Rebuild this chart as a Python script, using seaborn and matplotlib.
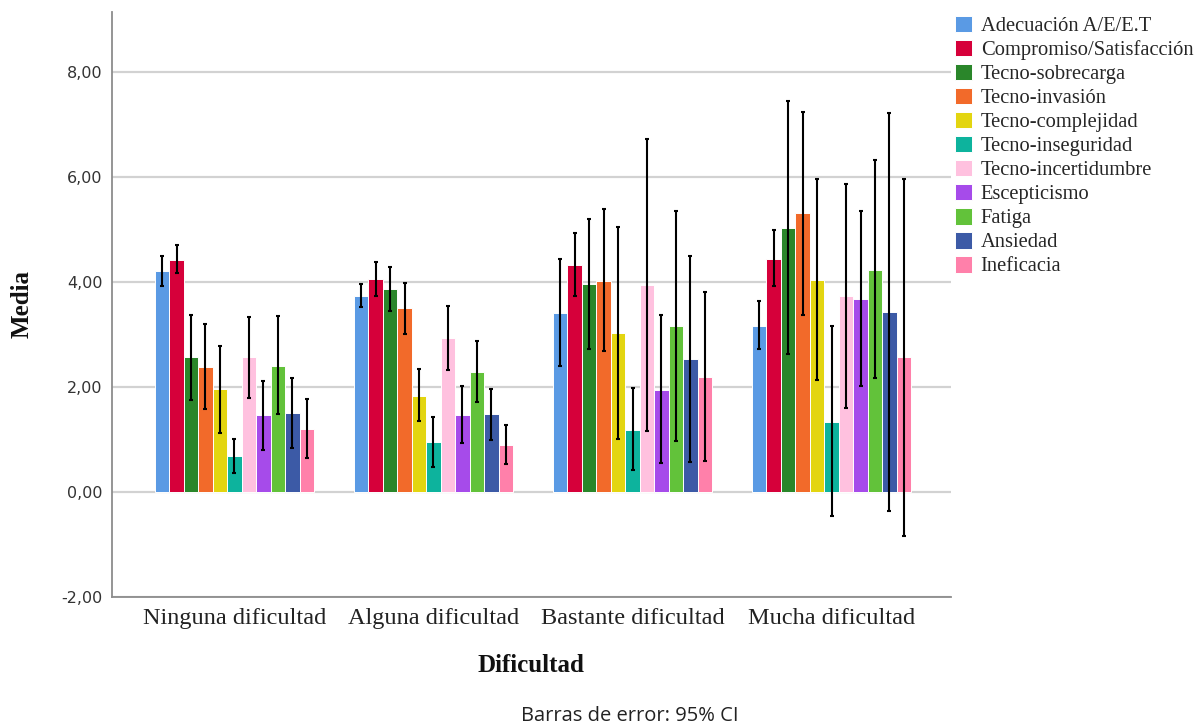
import numpy as np
import pandas as pd
import matplotlib
matplotlib.use("Agg")
import matplotlib.pyplot as plt
from matplotlib.ticker import FuncFormatter
import seaborn as sns

categories = ["Ninguna dificultad", "Alguna dificultad", "Bastante dificultad", "Mucha dificultad"]
series = ["Adecuación A/E/E.T", "Compromiso/Satisfacción", "Tecno-sobrecarga", "Tecno-invasión",
          "Tecno-complejidad", "Tecno-inseguridad", "Tecno-incertidumbre", "Escepticismo",
          "Fatiga", "Ansiedad", "Ineficacia"]
colors = ["#5A9AE4", "#D6003A", "#2A862A", "#F26A2A", "#E3D510", "#0DB39D", "#FFC1DF",
          "#A64BEA", "#62C23A", "#3C5AA6", "#FF80AA"]

adecuacion_mean = [4.21, 3.74, 3.42, 3.17]
adecuacion_lo = [3.92, 3.52, 2.41, 2.72]
adecuacion_hi = [4.50, 3.97, 4.45, 3.64]
compromiso_mean = [4.43, 4.06, 4.32, 4.45]
compromiso_lo = [4.18, 3.74, 3.73, 3.92]
compromiso_hi = [4.70, 4.39, 4.93, 5.00]
sobrecarga_mean = [2.57, 3.87, 3.96, 5.04]
sobrecarga_lo = [1.75, 3.46, 2.73, 2.64]
sobrecarga_hi = [3.38, 4.29, 5.20, 7.45]
invasion_mean = [2.39, 3.50, 4.03, 5.31]
invasion_lo = [1.58, 3.02, 2.69, 3.38]
invasion_hi = [3.21, 3.99, 5.40, 7.24]
complejidad_mean = [1.96, 1.84, 3.03, 4.04]
complejidad_lo = [1.13, 1.35, 1.02, 2.13]
complejidad_hi = [2.79, 2.34, 5.05, 5.96]
inseguridad_mean = [0.68, 0.95, 1.19, 1.34]
inseguridad_lo = [0.37, 0.48, 0.42, -0.46]
inseguridad_hi = [1.01, 1.43, 1.99, 3.16]
incertidumbre_mean = [2.57, 2.93, 3.94, 3.73]
incertidumbre_lo = [1.80, 2.33, 1.16, 1.61]
incertidumbre_hi = [3.33, 3.54, 6.72, 5.88]
escepticismo_mean = [1.46, 1.46, 1.94, 3.68]
escepticismo_lo = [0.81, 0.93, 0.56, 2.02]
escepticismo_hi = [2.12, 2.02, 3.38, 5.35]
fatiga_mean = [2.41, 2.29, 3.16, 4.24]
fatiga_lo = [1.48, 1.71, 0.98, 2.17]
fatiga_hi = [3.35, 2.88, 5.35, 6.32]
ansiedad_mean = [1.51, 1.48, 2.53, 3.43]
ansiedad_lo = [0.84, 0.99, 0.58, -0.36]
ansiedad_hi = [2.18, 1.97, 4.50, 7.22]
ineficacia_mean = [1.21, 0.90, 2.20, 2.57]
ineficacia_lo = [0.65, 0.53, 0.60, -0.83]
ineficacia_hi = [1.77, 1.28, 3.81, 5.96]

means = [adecuacion_mean, compromiso_mean, sobrecarga_mean, invasion_mean, complejidad_mean,
         inseguridad_mean, incertidumbre_mean, escepticismo_mean, fatiga_mean, ansiedad_mean,
         ineficacia_mean]
lows = [adecuacion_lo, compromiso_lo, sobrecarga_lo, invasion_lo, complejidad_lo,
        inseguridad_lo, incertidumbre_lo, escepticismo_lo, fatiga_lo, ansiedad_lo, ineficacia_lo]
highs = [adecuacion_hi, compromiso_hi, sobrecarga_hi, invasion_hi, complejidad_hi,
         inseguridad_hi, incertidumbre_hi, escepticismo_hi, fatiga_hi, ansiedad_hi, ineficacia_hi]

rows = []
for s, m in zip(series, means):
    for c, v in zip(categories, m):
        rows.append({"Dificultad": c, "Serie": s, "Media": v})
df = pd.DataFrame(rows)

sns.set_style("white")
plt.rcParams["font.family"] = ["DejaVu Sans"]

fig = plt.figure(figsize=(12.02, 7.24), dpi=100)
ax = fig.add_axes([112 / 1202, 1 - 597 / 724, (951 - 112) / 1202, (597 - 12) / 724])

sns.barplot(data=df, x="Dificultad", y="Media", hue="Serie", order=categories,
            hue_order=series, palette=colors, errorbar=None, width=0.8,
            edgecolor="white", linewidth=0.7, saturation=1, ax=ax, zorder=2)

for cont, lo, hi, m in zip(ax.containers, lows, highs, means):
    xs = [p.get_x() + p.get_width() / 2 for p in cont.patches]
    m = np.array(m); lo = np.array(lo); hi = np.array(hi)
    ax.errorbar(xs, m, yerr=[m - lo, hi - m], fmt="none", ecolor="black",
                elinewidth=1.5, capsize=1.6, capthick=1.5, zorder=3)

ax.set_ylim(-2, 9.15)
ax.set_xlim(-0.615, 3.60)
ax.set_yticks([-2, 0, 2, 4, 6, 8])
ax.yaxis.set_major_formatter(FuncFormatter(lambda v, p: f"{v:.2f}".replace(".", ",")))
ax.grid(axis="y", color="#D2D2D2", linewidth=1.6, zorder=0)
ax.set_axisbelow(True)
for side in ["top", "right"]:
    ax.spines[side].set_visible(False)
for side in ["left", "bottom"]:
    ax.spines[side].set_color("#8C8C8C")
    ax.spines[side].set_linewidth(1.3)

ax.tick_params(axis="y", length=0, pad=7, labelsize=11.5, labelcolor="#333333")
ax.tick_params(axis="x", length=0, pad=8)
for lab in ax.get_xticklabels():
    lab.set_fontfamily("Liberation Serif")
    lab.set_fontsize(17.5)
    lab.set_color("#222222")

ax.set_xlabel("")
ax.set_ylabel("")
fig.text(22 / 1202, 1 - 304 / 724, "Media", rotation=90, ha="center", va="center",
         fontfamily="Liberation Serif", fontweight="bold", fontsize=18, color="#111111")
fig.text(531 / 1202, 1 - 665 / 724, "Dificultad", ha="center", va="center",
         fontfamily="Liberation Serif", fontweight="bold", fontsize=18, color="#111111")
fig.text(630 / 1202, 1 - 716 / 724, "Barras de error: 95% CI", ha="center", va="center",
         fontfamily="Open Sans", fontsize=14.5, color="#222222")

handles, labels = ax.get_legend_handles_labels()
if ax.legend_:
    ax.legend_.remove()
leg = fig.legend(handles, labels, loc="upper left", bbox_to_anchor=(955 / 1202, 1 - 16 / 724),
                 frameon=False, prop={"family": "Liberation Serif", "size": 14.8},
                 handlelength=0.85, handleheight=0.85, handletextpad=0.4,
                 labelspacing=0.18, borderaxespad=0, borderpad=0)

fig.savefig("out.png", dpi=100)
